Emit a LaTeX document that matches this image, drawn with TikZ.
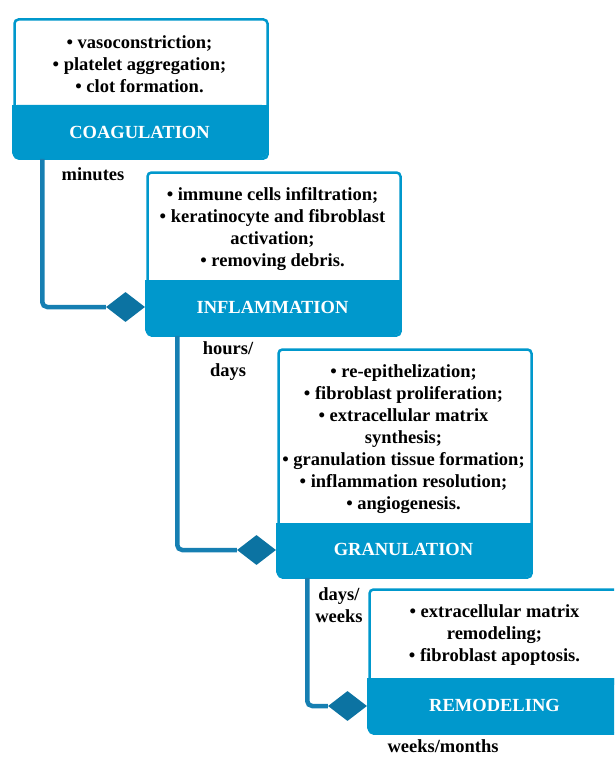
\documentclass[tikz,border=0pt]{standalone}
\usepackage{fontspec}
\setmainfont{Liberation Serif}
\usetikzlibrary{shapes.geometric}
\definecolor{boxblue}{RGB}{0,152,204}
\definecolor{linkblue}{RGB}{22,127,178}
\definecolor{diablue}{RGB}{12,115,162}
\begin{document}
\begin{tikzpicture}[x=1pt,y=-1pt,
  stagebox/.style={draw=boxblue, line width=2.5pt, rounded corners=4pt, fill=white,
    minimum width=253pt, inner sep=0pt, anchor=north west},
  bodytext/.style={align=center, font=\fontsize{18.5}{22}\selectfont\bfseries, inner sep=0pt},
  titletext/.style={text=white, font=\fontsize{18.5}{22}\selectfont\bfseries, inner sep=0pt},
  lbl/.style={align=center, font=\fontsize{18.5}{22}\selectfont\bfseries, inner sep=0pt},
  link/.style={draw=linkblue, line width=4.5pt, rounded corners=5pt},
  knot/.style={diamond, fill=diablue, minimum width=39pt, minimum height=30pt, inner sep=0pt, aspect=1.3},
  band/.style={fill=boxblue, rounded corners=5.25pt}
]
\useasboundingbox (0,0) rectangle (614,757);
\clip (0,0) rectangle (614,757);

% Box 1
\node[stagebox, minimum height=139pt] (b1) at (13.25,18.25) {};
\fill[band] (12,105) rectangle (267,158);
\fill[boxblue] (12,105) rectangle (267,112);
\node[bodytext] (x1) at (139.5,64) {• vasoconstriction;\\• platelet aggregation;\\• clot formation.};
\node[titletext] (t1) at (139.5,132) {COAGULATION};

% Box 2
\node[stagebox, minimum height=163pt] (b2) at (146.25,171.25) {};
\fill[band] (145,280) rectangle (400,335);
\fill[boxblue] (145,280) rectangle (400,287);
\node[bodytext] (x2) at (272.5,229) {• immune cells infiltration;\\• keratinocyte and fibroblast\\activation;\\• removing debris.};
\node[titletext] (t2) at (272.5,307) {INFLAMMATION};

% Box 3
\node[stagebox, minimum height=228pt] (b3) at (277.25,348.25) {};
\fill[band] (276,523) rectangle (531,577);
\fill[boxblue] (276,523) rectangle (531,530);
\node[bodytext] (x3) at (403.5,439) {• re-epithelization;\\• fibroblast proliferation;\\• extracellular matrix\\synthesis;\\• granulation tissue formation;\\• inflammation resolution;\\• angiogenesis.};
\node[titletext] (t3) at (403.5,549) {GRANULATION};

% Box 4
\node[stagebox, minimum height=144pt] (b4) at (368.25,588.25) {};
\fill[band] (367,678) rectangle (622,733);
\fill[boxblue] (367,678) rectangle (622,685);
\node[bodytext] (x4) at (494.5,635) {• extracellular matrix\\remodeling;\\• fibroblast apoptosis.};
\node[titletext] (t4) at (494.5,705) {REMODELING};

% Diamonds
\node[knot] (d1) at (125.5,307) {};
\node[knot] (d2) at (256.5,550) {};
\node[knot] (d3) at (347.5,706) {};

% Connectors
\draw[link] (b1.south west) ++(29,-1) |- (d1.west);
\draw[link] (b2.south west) ++(31,-1) |- (d2.west);
\draw[link] (b3.south west) ++(30,-1) |- (d3.west);

% Time labels
\node[lbl] (l1) at (93,174) {minutes};
\node[lbl] (l2) at (228,361) {hours/\\days};
\node[lbl] (l3) at (339,605) {days/\\weeks};
\node[lbl] (l4) at (443,746) {weeks/months};
\end{tikzpicture}
\end{document}
